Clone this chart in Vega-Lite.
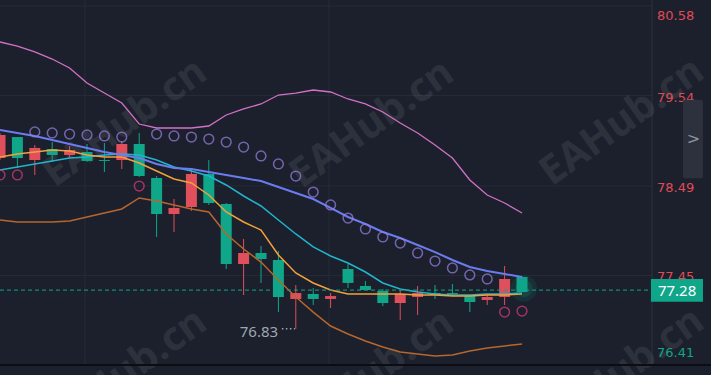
{
  "$schema": "https://vega.github.io/schema/vega-lite/v6.json",
  "width": 652,
  "height": 365,
  "autosize": {"type": "none"},
  "padding": {"left": 0, "top": 0, "right": 59, "bottom": 10},
  "background": "#1b202c",
  "config": {"view": {"stroke": null}, "font": "DejaVu Sans"},
  "datasets": {
    "k": [
      {"i":0,"o":79.082,"h":79.105,"l":78.791,"c":78.814,"up":80.162,"lo":78.094,"mid":79.140,"ma1":78.675,"ma2":78.826,"sar":78.617},
      {"i":1,"o":78.814,"h":79.058,"l":78.698,"c":79.058,"up":80.115,"lo":78.071,"mid":79.105,"ma1":78.710,"ma2":78.861,"sar":78.617},
      {"i":2,"o":78.931,"h":78.965,"l":78.617,"c":78.791,"up":80.046,"lo":78.071,"mid":79.070,"ma1":78.745,"ma2":78.884,"sar":79.117},
      {"i":3,"o":78.849,"h":79.000,"l":78.768,"c":78.919,"up":79.964,"lo":78.071,"mid":79.023,"ma1":78.780,"ma2":78.907,"sar":79.105},
      {"i":4,"o":78.907,"h":78.954,"l":78.814,"c":78.849,"up":79.860,"lo":78.083,"mid":78.977,"ma1":78.814,"ma2":78.896,"sar":79.093},
      {"i":5,"o":78.780,"h":78.977,"l":78.768,"c":78.884,"up":79.686,"lo":78.129,"mid":78.931,"ma1":78.826,"ma2":78.849,"sar":79.082},
      {"i":6,"o":78.780,"h":78.989,"l":78.652,"c":78.791,"up":79.569,"lo":78.176,"mid":78.884,"ma1":78.849,"ma2":78.826,"sar":79.070},
      {"i":7,"o":78.977,"h":79.012,"l":78.687,"c":78.791,"up":79.453,"lo":78.222,"mid":78.849,"ma1":78.861,"ma2":78.826,"sar":79.058},
      {"i":8,"o":78.605,"h":79.105,"l":78.594,"c":78.977,"up":79.209,"lo":78.350,"mid":78.814,"ma1":78.849,"ma2":78.756,"sar":78.489},
      {"i":9,"o":78.164,"h":78.605,"l":77.897,"c":78.582,"up":79.163,"lo":78.315,"mid":78.745,"ma1":78.791,"ma2":78.663,"sar":79.093},
      {"i":10,"o":78.234,"h":78.338,"l":77.955,"c":78.164,"up":79.163,"lo":78.269,"mid":78.698,"ma1":78.710,"ma2":78.570,"sar":79.070},
      {"i":11,"o":78.629,"h":78.675,"l":78.199,"c":78.245,"up":79.163,"lo":78.222,"mid":78.687,"ma1":78.663,"ma2":78.524,"sar":79.058},
      {"i":12,"o":78.292,"h":78.791,"l":78.269,"c":78.629,"up":79.186,"lo":78.187,"mid":78.652,"ma1":78.605,"ma2":78.385,"sar":79.035},
      {"i":13,"o":77.583,"h":78.292,"l":77.525,"c":78.280,"up":79.314,"lo":77.932,"mid":78.617,"ma1":78.501,"ma2":78.187,"sar":79.000},
      {"i":14,"o":77.711,"h":77.874,"l":77.223,"c":77.583,"up":79.384,"lo":77.757,"mid":78.582,"ma1":78.373,"ma2":78.071,"sar":78.942},
      {"i":15,"o":77.641,"h":77.792,"l":77.363,"c":77.711,"up":79.442,"lo":77.606,"mid":78.547,"ma1":78.257,"ma2":77.978,"sar":78.838},
      {"i":16,"o":77.200,"h":77.734,"l":77.025,"c":77.630,"up":79.546,"lo":77.397,"mid":78.478,"ma1":78.094,"ma2":77.688,"sar":78.745},
      {"i":17,"o":77.246,"h":77.339,"l":76.830,"c":77.177,"up":79.569,"lo":77.200,"mid":78.408,"ma1":77.932,"ma2":77.479,"sar":78.605},
      {"i":18,"o":77.177,"h":77.304,"l":77.107,"c":77.235,"up":79.604,"lo":77.025,"mid":78.338,"ma1":77.781,"ma2":77.363,"sar":78.419},
      {"i":19,"o":77.211,"h":77.246,"l":77.072,"c":77.177,"up":79.581,"lo":76.863,"mid":78.234,"ma1":77.676,"ma2":77.281,"sar":78.269},
      {"i":20,"o":77.363,"h":77.583,"l":77.304,"c":77.525,"up":79.500,"lo":76.770,"mid":78.129,"ma1":77.595,"ma2":77.235,"sar":78.117},
      {"i":21,"o":77.281,"h":77.386,"l":77.281,"c":77.328,"up":79.442,"lo":76.689,"mid":78.048,"ma1":77.490,"ma2":77.235,"sar":77.990},
      {"i":22,"o":77.130,"h":77.293,"l":77.095,"c":77.270,"up":79.349,"lo":76.619,"mid":77.955,"ma1":77.363,"ma2":77.235,"sar":77.897},
      {"i":23,"o":77.235,"h":77.281,"l":76.933,"c":77.130,"up":79.221,"lo":76.561,"mid":77.885,"ma1":77.293,"ma2":77.235,"sar":77.827},
      {"i":24,"o":77.246,"h":77.328,"l":76.991,"c":77.200,"up":79.105,"lo":76.538,"mid":77.804,"ma1":77.258,"ma2":77.223,"sar":77.711},
      {"i":25,"o":77.223,"h":77.339,"l":77.177,"c":77.246,"up":78.965,"lo":76.514,"mid":77.722,"ma1":77.235,"ma2":77.223,"sar":77.618},
      {"i":26,"o":77.235,"h":77.351,"l":77.211,"c":77.246,"up":78.814,"lo":76.526,"mid":77.630,"ma1":77.223,"ma2":77.211,"sar":77.537},
      {"i":27,"o":77.142,"h":77.223,"l":77.025,"c":77.211,"up":78.559,"lo":76.573,"mid":77.548,"ma1":77.223,"ma2":77.211,"sar":77.456},
      {"i":28,"o":77.200,"h":77.223,"l":77.107,"c":77.165,"up":78.385,"lo":76.607,"mid":77.502,"ma1":77.235,"ma2":77.223,"sar":77.409},
      {"i":29,"o":77.409,"h":77.560,"l":77.107,"c":77.200,"up":78.292,"lo":76.631,"mid":77.467,"ma1":77.235,"ma2":77.223,"sar":77.025},
      {"i":30,"o":77.258,"h":77.444,"l":77.258,"c":77.432,"up":78.176,"lo":76.654,"mid":77.432,"ma1":77.246,"ma2":77.235,"sar":77.037}
    ],
    "wm": [
      {"i":7.18,"p":79.221,"t":"EAHub.cn"},
      {"i":21.38,"p":79.209,"t":"EAHub.cn"},
      {"i":35.75,"p":79.233,"t":"EAHub.cn"},
      {"i":7.18,"p":76.317,"t":"EAHub.cn"},
      {"i":21.38,"p":76.305,"t":"EAHub.cn"},
      {"i":35.75,"p":76.329,"t":"EAHub.cn"}
    ],
    "ticks": [{"v": 76.41}, {"v": 77.45}, {"v": 78.49}, {"v": 79.54}, {"v": 80.58}],
    "vgrid": [{"t": 4.885}, {"t": 18.908}],
    "one": [{}]
  },
  "layer": [
    {
      "data": {"name": "ticks"},
      "mark": {"type": "rule", "color": "#262b38", "strokeWidth": 1},
      "encoding": {
        "y": {"field": "v", "type": "quantitative", "scale": {"domain": [76.41, 80.6497], "nice": false, "zero": false, "padding": 0}, "axis": null}
      }
    },
    {
      "data": {"name": "vgrid"},
      "mark": {"type": "rule", "color": "#262b38", "strokeWidth": 1},
      "encoding": {
        "x": {"field": "t", "type": "quantitative", "scale": {"domain": [0, 37.47], "nice": false, "zero": false, "padding": 0}, "axis": null}
      }
    },
    {
      "data": {"name": "one"},
      "mark": {"type": "rule", "color": "#2b303c", "strokeWidth": 1},
      "encoding": {"x": {"datum": 37.47, "type": "quantitative", "axis": null}}
    },
    {
      "data": {"name": "wm"},
      "mark": {"type": "text", "angle": -35.5, "font": "Noto Sans", "fontWeight": "bold", "fontSize": 40, "fill": "#ffffff", "opacity": 0.075, "align": "center", "baseline": "middle"},
      "encoding": {
        "x": {"field": "i", "type": "quantitative", "axis": null},
        "y": {"field": "p", "type": "quantitative", "axis": null},
        "text": {"field": "t"}
      }
    },
    {
      "data": {"name": "k"},
      "mark": {"type": "rule", "strokeWidth": 1},
      "encoding": {
        "x": {"field": "i", "type": "quantitative", "axis": null},
        "y": {"field": "l", "type": "quantitative", "axis": null},
        "y2": {"field": "h"},
        "color": {"condition": {"test": "datum.c >= datum.o", "value": "#10a68a"}, "value": "#e04f5c"}
      }
    },
    {
      "data": {"name": "k"},
      "mark": {"type": "bar", "size": 11},
      "encoding": {
        "x": {"field": "i", "type": "quantitative", "scale": {"domain": [0, 37.47], "nice": false, "zero": false, "padding": 0}, "axis": null},
        "y": {"field": "o", "type": "quantitative", "axis": null},
        "y2": {"field": "c"},
        "color": {"condition": {"test": "datum.c >= datum.o", "value": "#10a68a"}, "value": "#e04f5c"}
      }
    },
    {
      "data": {"name": "k"},
      "mark": {"type": "line", "color": "#d271c6", "strokeWidth": 1.3},
      "encoding": {"x": {"field": "i", "type": "quantitative", "axis": null}, "y": {"field": "up", "type": "quantitative", "axis": null}}
    },
    {
      "data": {"name": "k"},
      "mark": {"type": "line", "color": "#b6662e", "strokeWidth": 1.5},
      "encoding": {"x": {"field": "i", "type": "quantitative", "axis": null}, "y": {"field": "lo", "type": "quantitative", "axis": null}}
    },
    {
      "data": {"name": "k"},
      "mark": {"type": "line", "color": "#22b4cc", "strokeWidth": 1.5},
      "encoding": {"x": {"field": "i", "type": "quantitative", "axis": null}, "y": {"field": "ma1", "type": "quantitative", "axis": null}}
    },
    {
      "data": {"name": "k"},
      "mark": {"type": "line", "color": "#f2a13a", "strokeWidth": 1.5},
      "encoding": {"x": {"field": "i", "type": "quantitative", "axis": null}, "y": {"field": "ma2", "type": "quantitative", "axis": null}}
    },
    {
      "data": {"name": "k"},
      "mark": {"type": "line", "color": "#6b7cf0", "strokeWidth": 2},
      "encoding": {"x": {"field": "i", "type": "quantitative", "axis": null}, "y": {"field": "mid", "type": "quantitative", "axis": null}}
    },
    {
      "data": {"name": "k"},
      "mark": {"type": "point", "shape": "circle", "filled": false, "size": 95, "strokeWidth": 1.5},
      "encoding": {
        "x": {"field": "i", "type": "quantitative", "axis": null},
        "y": {"field": "sar", "type": "quantitative", "axis": null},
        "stroke": {"condition": {"test": "datum.sar > datum.h", "value": "#9a82e4"}, "value": "#dc3a7e"}
      }
    },
    {
      "data": {"name": "one"},
      "mark": {"type": "point", "shape": "circle", "filled": true, "size": 700, "color": "#10a68a", "opacity": 0.12},
      "encoding": {"x": {"datum": 30.1, "type": "quantitative", "axis": null}, "y": {"datum": 77.3, "type": "quantitative", "axis": null}}
    },
    {
      "data": {"name": "one"},
      "mark": {"type": "point", "shape": "circle", "filled": true, "size": 300, "color": "#10a68a", "opacity": 0.18},
      "encoding": {"x": {"datum": 30.1, "type": "quantitative", "axis": null}, "y": {"datum": 77.3, "type": "quantitative", "axis": null}}
    },
    {
      "data": {"name": "one"},
      "mark": {"type": "rule", "color": "#12a388", "strokeDash": [4, 3], "strokeWidth": 1},
      "encoding": {"x": {"datum": 0, "type": "quantitative", "axis": null}, "x2": {"datum": 37.47}, "y": {"datum": 77.28, "type": "quantitative", "axis": null}}
    },
    {
      "data": {"name": "one"},
      "mark": {"type": "rule", "color": "#a0a6b0", "strokeDash": [1.5, 2.5], "strokeWidth": 1.5},
      "encoding": {"x": {"datum": 16.2, "type": "quantitative", "axis": null}, "x2": {"datum": 16.95}, "y": {"datum": 76.83, "type": "quantitative", "axis": null}}
    },
    {
      "data": {"name": "one"},
      "mark": {"type": "text", "text": "76.83", "font": "Noto Sans", "fontSize": 15, "color": "#a0a6b0", "align": "right", "baseline": "middle"},
      "encoding": {"x": {"datum": 15.98, "type": "quantitative", "axis": null}, "y": {"datum": 76.79, "type": "quantitative", "axis": null}}
    },
    {
      "data": {"name": "ticks"},
      "transform": [{"filter": "datum.v > 77 && datum.v < 80"}],
      "mark": {"type": "text", "font": "DejaVu Sans", "fontSize": 13, "color": "#e04b57", "align": "left", "baseline": "middle", "dy": 2},
      "encoding": {
        "x": {"datum": 37.76, "type": "quantitative", "axis": null},
        "y": {"field": "v", "type": "quantitative", "axis": null},
        "text": {"field": "v", "type": "quantitative", "format": ".2f"}
      }
    },
    {
      "data": {"name": "ticks"},
      "transform": [{"filter": "datum.v > 80"}],
      "mark": {"type": "text", "font": "DejaVu Sans", "fontSize": 13, "color": "#e04b57", "align": "left", "baseline": "middle", "dy": 10},
      "encoding": {
        "x": {"datum": 37.76, "type": "quantitative", "axis": null},
        "y": {"field": "v", "type": "quantitative", "axis": null},
        "text": {"field": "v", "type": "quantitative", "format": ".2f"}
      }
    },
    {
      "data": {"name": "ticks"},
      "transform": [{"filter": "datum.v < 77"}],
      "mark": {"type": "text", "font": "DejaVu Sans", "fontSize": 13, "color": "#13a487", "align": "left", "baseline": "middle", "dy": -12},
      "encoding": {
        "x": {"datum": 37.76, "type": "quantitative", "axis": null},
        "y": {"field": "v", "type": "quantitative", "axis": null},
        "text": {"field": "v", "type": "quantitative", "format": ".2f"}
      }
    },
    {
      "data": {"name": "one"},
      "mark": {"type": "rect", "color": "#10a68a"},
      "encoding": {"x": {"datum": 37.41, "type": "quantitative", "axis": null}, "x2": {"datum": 40.4}, "y": {"datum": 77.41, "type": "quantitative", "axis": null}, "y2": {"datum": 77.145}}
    },
    {
      "data": {"name": "one"},
      "mark": {"type": "text", "text": "77.28", "font": "Noto Sans", "fontSize": 15, "color": "#ffffff", "align": "center", "baseline": "middle"},
      "encoding": {"x": {"datum": 38.91, "type": "quantitative", "axis": null}, "y": {"datum": 77.275, "type": "quantitative", "axis": null}}
    },
    {
      "data": {"name": "one"},
      "mark": {"type": "rect", "color": "#2c313d", "cornerRadius": 2},
      "encoding": {"x": {"datum": 39.25, "type": "quantitative", "axis": null}, "x2": {"datum": 40.4}, "y": {"datum": 79.49, "type": "quantitative", "axis": null}, "y2": {"datum": 78.58}}
    },
    {
      "data": {"name": "one"},
      "mark": {"type": "text", "text": ">", "font": "DejaVu Sans", "fontSize": 16, "color": "#8d929c", "align": "center", "baseline": "middle"},
      "encoding": {"x": {"datum": 39.85, "type": "quantitative", "axis": null}, "y": {"datum": 79.03, "type": "quantitative", "axis": null}}
    },
    {
      "data": {"name": "one"},
      "mark": {"type": "rule", "color": "#0b0d12", "strokeWidth": 2},
      "encoding": {"x": {"datum": 0, "type": "quantitative", "axis": null}, "x2": {"datum": 40.9}, "y": {"datum": 76.41, "type": "quantitative", "axis": null}}
    }
  ]
}
